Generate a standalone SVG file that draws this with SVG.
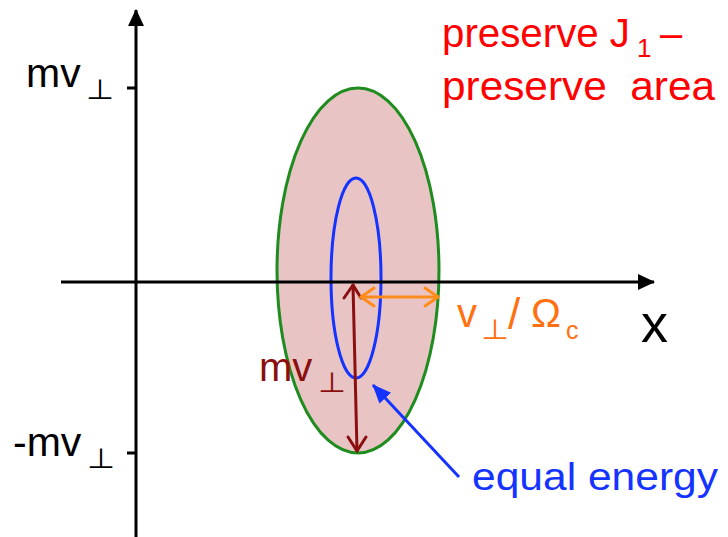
<svg xmlns="http://www.w3.org/2000/svg" width="728" height="537" viewBox="0 0 728 537">
<defs>
<style>
.t{font-family:"Liberation Sans",Arial,sans-serif;}
.s{font-family:"DejaVu Sans","Liberation Sans",sans-serif;}
.ax{stroke:#000;stroke-width:3;fill:none;}
</style>
<marker id="ahK" markerWidth="18" markerHeight="18" viewBox="0 0 18 18" refX="16" refY="9" orient="auto" markerUnits="userSpaceOnUse">
<path d="M0,1 L17,9 L0,17 Z" fill="#000"/>
</marker>
<marker id="ahB" markerWidth="20" markerHeight="20" viewBox="0 0 20 20" refX="18" refY="10" orient="auto" markerUnits="userSpaceOnUse">
<path d="M0,2 L19,10 L0,18 Z" fill="#1433ff"/>
</marker>
</defs>
<rect width="728" height="537" fill="#fff"/>

<g id="ellipses">
<ellipse id="outer" cx="358" cy="270.5" rx="81" ry="182.5" fill="#e9c4c4" stroke="#1e8c1e" stroke-width="3"/>
<ellipse id="inner" cx="356" cy="278" rx="25" ry="100" fill="none" stroke="#1433ff" stroke-width="3"/>
</g>

<g id="axes">
<line class="ax" x1="136" y1="537" x2="136" y2="10" marker-end="url(#ahK)"/>
<line class="ax" x1="61" y1="282" x2="654" y2="282" marker-end="url(#ahK)"/>
<line class="ax" x1="127" y1="88" x2="136" y2="88"/>
<line class="ax" x1="127" y1="453" x2="136" y2="453"/>
</g>

<g id="connectors">
<g id="mv-arrow" stroke="#8b0f0f" stroke-width="3" fill="none" stroke-linecap="round" stroke-linejoin="round">
<line x1="353" y1="285" x2="357" y2="451"/>
<path d="M344,298 L353,285 L361,298"/>
<path d="M348,437 L357,451 L366,437"/>
</g>
<g id="r-arrow" stroke="#ff8c1a" stroke-width="3" fill="none" stroke-linecap="round" stroke-linejoin="round">
<line x1="361" y1="297" x2="438" y2="297"/>
<path d="M374,288 L361,297 L374,306"/>
<path d="M425,288 L438,297 L425,306"/>
</g>
<line id="pointer" x1="459" y1="477" x2="373" y2="385" stroke="#1433ff" stroke-width="3" marker-end="url(#ahB)"/>
</g>

<g id="labels">
<text class="t" x="26" y="87" font-size="41" fill="#000">mv</text>
<text class="s" x="86" y="99" font-size="28" fill="#000" textLength="28" lengthAdjust="spacingAndGlyphs">⊥</text>
<text class="t" x="13" y="456" font-size="41" fill="#000">-mv</text>
<text class="s" x="87" y="468" font-size="28" fill="#000" textLength="28" lengthAdjust="spacingAndGlyphs">⊥</text>

<text class="t" x="442" y="47" font-size="40" fill="#ff0000" textLength="188" lengthAdjust="spacingAndGlyphs">preserve J</text>
<text class="t" x="637" y="57" font-size="26" fill="#ff0000">1</text>
<text class="t" x="660" y="47" font-size="40" fill="#ff0000">–</text>
<text class="t" x="442" y="100" font-size="40" fill="#ff0000" textLength="273" lengthAdjust="spacingAndGlyphs" xml:space="preserve">preserve  area</text>

<text class="t" x="457" y="327" font-size="40" fill="#ff7010">v</text>
<text class="s" x="481" y="339" font-size="28" fill="#ff7010" textLength="28" lengthAdjust="spacingAndGlyphs">⊥</text>
<text class="t" x="508" y="329" font-size="44" fill="#ff7010">/</text>
<text class="t" x="531" y="327" font-size="40" fill="#ff7010">Ω</text>
<text class="t" x="566" y="339" font-size="25" fill="#ff7010">c</text>

<text class="t" x="641" y="342" font-size="54" fill="#000">x</text>

<text class="t" x="259" y="381" font-size="40" fill="#8b0f0f">mv</text>
<text class="s" x="318" y="392" font-size="28" fill="#8b0f0f" textLength="28" lengthAdjust="spacingAndGlyphs">⊥</text>

<text class="t" x="472" y="490" font-size="38" fill="#1433ff" textLength="246" lengthAdjust="spacingAndGlyphs">equal energy</text>
</g>
</svg>
